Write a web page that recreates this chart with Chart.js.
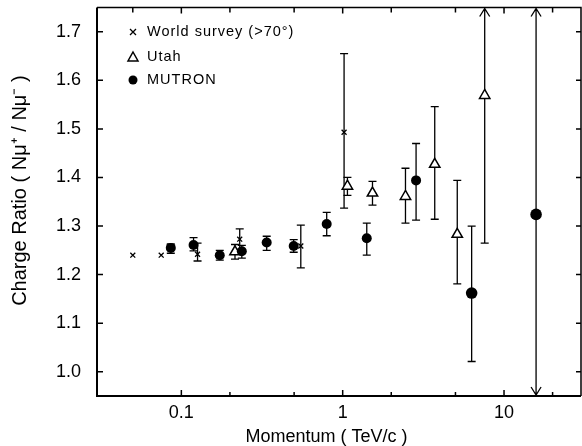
<!DOCTYPE html>
<html>
<head>
<meta charset="utf-8">
<script src="https://cdn.jsdelivr.net/npm/chart.js@4.4.1/dist/chart.umd.min.js"></script>
<style>
  html, body { margin: 0; padding: 0; background: #fff; }
  #wrap { width: 582px; height: 446px; }
</style>
</head>
<body>
<div id="wrap"><canvas id="c" width="582" height="446"></canvas></div>
<script>
// Muon charge ratio N(mu+)/N(mu-) versus momentum (TeV/c)

// World survey (zenith > 70 deg)
const worldP    = [0.05, 0.075, 0.126, 0.23, 0.55, 1.02];
const worldR    = [1.240, 1.240, 1.242, 1.273, 1.259, 1.493];
const worldLow  = [null, null, 1.228, 1.252, 1.214, 1.337];
const worldHigh = [null, null, 1.265, 1.294, 1.302, 1.655];

// Utah
const utahP    = [0.215, 1.07, 1.53, 2.45, 3.72, 5.13, 7.59];
const utahR    = [1.247, 1.382, 1.368, 1.361, 1.427, 1.283, 1.569];
const utahLow  = [1.232, 1.363, 1.343, 1.306, 1.314, 1.181, 1.265];
const utahHigh = [1.262, 1.400, 1.392, 1.419, 1.546, 1.394, Infinity];

// MUTRON
const mutronP    = [0.086, 0.119, 0.173, 0.237, 0.338, 0.497, 0.796, 1.41, 2.85, 6.3, 15.8];
const mutronR    = [1.255, 1.261, 1.240, 1.248, 1.266, 1.259, 1.304, 1.275, 1.394, 1.162, 1.324];
const mutronLow  = [1.244, 1.249, 1.230, 1.234, 1.250, 1.246, 1.280, 1.240, 1.312, 1.021, -Infinity];
const mutronHigh = [1.263, 1.276, 1.250, 1.260, 1.279, 1.272, 1.328, 1.306, 1.470, 1.300, Infinity];

// Axis ticks
const xLabelTicks  = [0.1, 1, 10];
const xMinorTicks  = [0.2, 0.5, 2, 5, 20];
const xTopOnly     = [0.05];
const yTicks       = [1.0, 1.1, 1.2, 1.3, 1.4, 1.5, 1.6, 1.7];

const legendItems = ['World survey (>70°)', 'Utah', 'MUTRON'];

const SANS = "'Liberation Sans', Arial, sans-serif";

const toPts = (xs, ys) => xs.map((v, i) => ({ x: v, y: ys[i] }));

function drawMarker(ctx, kind, x, y) {
  ctx.save();
  ctx.strokeStyle = '#000';
  ctx.fillStyle = '#000';
  if (kind === 'cross') {
    const r = 3;
    ctx.lineWidth = 1.3;
    ctx.beginPath();
    ctx.moveTo(x - r, y - r); ctx.lineTo(x + r, y + r);
    ctx.moveTo(x + r, y - r); ctx.lineTo(x - r, y + r);
    ctx.stroke();
  } else if (kind === 'triangle') {
    ctx.lineWidth = 1.5;
    ctx.fillStyle = '#fff';
    ctx.beginPath();
    ctx.moveTo(x, y - 5); ctx.lineTo(x + 5, y + 4); ctx.lineTo(x - 5, y + 4);
    ctx.closePath();
    ctx.fill(); ctx.stroke();
  } else {
    ctx.beginPath();
    ctx.arc(x, y, 4.5, 0, Math.PI * 2);
    ctx.fill();
  }
  ctx.restore();
}

// Vertical error bars with caps; an infinite bound becomes an arrow at the plot edge
function errorBars(chart, xs, lo, hi) {
  const { ctx, chartArea: a, scales: { x, y } } = chart;
  ctx.save();
  ctx.strokeStyle = '#000';
  ctx.lineWidth = 1.3;
  xs.forEach((v, i) => {
    if (lo[i] == null || hi[i] == null) return;
    const px = x.getPixelForValue(v);
    const topOff = hi[i] === Infinity;
    const botOff = lo[i] === -Infinity;
    const pt = topOff ? a.top : y.getPixelForValue(hi[i]);
    const pb = botOff ? a.bottom : y.getPixelForValue(lo[i]);
    ctx.beginPath();
    ctx.moveTo(px, pt); ctx.lineTo(px, pb);
    if (topOff) {
      ctx.moveTo(px - 5, pt + 9); ctx.lineTo(px, pt + 1); ctx.lineTo(px + 5, pt + 9);
    } else {
      ctx.moveTo(px - 4, pt); ctx.lineTo(px + 4, pt);
    }
    if (botOff) {
      ctx.moveTo(px - 5, pb - 9); ctx.lineTo(px, pb - 1); ctx.lineTo(px + 5, pb - 9);
    } else {
      ctx.moveTo(px - 4, pb); ctx.lineTo(px + 4, pb);
    }
    ctx.stroke();
  });
  ctx.restore();
}

const framePlugin = {
  id: 'frameAndBars',
  // stretch the plot area to one pixel short of the right canvas edge
  afterLayout(chart) {
    const a = chart.chartArea;
    const x = chart.scales.x;
    const right = chart.width - 1;
    a.right = right;
    a.width = right - a.left;
    x.right = right;
    x.width = right - x.left;
    x.configure();
  },
  beforeDatasetsDraw(chart) {
    errorBars(chart, worldP, worldLow, worldHigh);
    errorBars(chart, utahP, utahLow, utahHigh);
    errorBars(chart, mutronP, mutronLow, mutronHigh);
  },
  afterDraw(chart) {
    const { ctx, chartArea: a, scales: { x, y } } = chart;
    ctx.save();
    ctx.strokeStyle = '#000';
    // frame
    ctx.lineWidth = 2;
    ctx.beginPath();
    ctx.moveTo(a.left, a.top); ctx.lineTo(a.left, a.bottom); ctx.lineTo(a.right, a.bottom);
    ctx.stroke();
    ctx.lineWidth = 1.5;
    ctx.beginPath();
    ctx.moveTo(a.left, a.top); ctx.lineTo(a.right, a.top); ctx.lineTo(a.right, a.bottom);
    ctx.stroke();
    // inward tick marks on all four sides
    ctx.lineWidth = 1.5;
    ctx.beginPath();
    xLabelTicks.forEach(v => {
      const px = x.getPixelForValue(v);
      ctx.moveTo(px, a.bottom); ctx.lineTo(px, a.bottom - 6);
      ctx.moveTo(px, a.top); ctx.lineTo(px, a.top + 6);
    });
    xMinorTicks.forEach(v => {
      const px = x.getPixelForValue(v);
      ctx.moveTo(px, a.bottom); ctx.lineTo(px, a.bottom - 4);
      ctx.moveTo(px, a.top); ctx.lineTo(px, a.top + 5);
    });
    xTopOnly.forEach(v => {
      const px = x.getPixelForValue(v);
      ctx.moveTo(px, a.top); ctx.lineTo(px, a.top + 5);
    });
    yTicks.forEach(v => {
      const py = y.getPixelForValue(v);
      ctx.moveTo(a.left, py); ctx.lineTo(a.left + 6, py);
      ctx.moveTo(a.right, py); ctx.lineTo(a.right - 5, py);
    });
    ctx.stroke();
    // legend block in the upper left of the plot
    const kinds = ['cross', 'triangle', 'circle'];
    const rowsY = [32, 57, 80];
    ctx.fillStyle = '#000';
    ctx.font = '14.5px ' + SANS;
    ctx.textBaseline = 'middle';
    ctx.textAlign = 'left';
    if ('letterSpacing' in ctx) ctx.letterSpacing = '1px';
    legendItems.forEach((t, i) => {
      drawMarker(ctx, kinds[i], 133, rowsY[i]);
      ctx.fillText(t, 147, rowsY[i]);
    });
    ctx.restore();
  }
};

new Chart(document.getElementById('c'), {
  type: 'scatter',
  data: {
    datasets: [
      {
        label: 'MUTRON',
        data: toPts(mutronP, mutronR),
        pointStyle: 'circle',
        pointRadius: c => (c.raw && c.raw.x > 5 ? 5.8 : 5),
        backgroundColor: '#000',
        borderColor: '#000',
        borderWidth: 0
      },
      {
        label: 'World survey (>70°)',
        data: toPts(worldP, worldR),
        pointStyle: 'crossRot',
        pointRadius: 3.5,
        borderColor: '#000',
        borderWidth: 1.3
      },
      {
        label: 'Utah',
        data: toPts(utahP, utahR),
        pointStyle: 'triangle',
        pointRadius: 6,
        backgroundColor: '#fff',
        borderColor: '#000',
        borderWidth: 1.5
      }
    ]
  },
  options: {
    responsive: false,
    animation: false,
    devicePixelRatio: 1,
    layout: { padding: { top: 4, right: 1, left: 0, bottom: 0 } },
    plugins: { legend: { display: false }, tooltip: { enabled: false } },
    scales: {
      x: {
        type: 'logarithmic',
        min: 0.03,
        max: 30,
        afterBuildTicks: s => { s.ticks = xLabelTicks.map(v => ({ value: v })); },
        afterFit: s => { s.height = 50; s.paddingLeft = 0; s.paddingRight = 0; },
        grid: { display: false, drawTicks: false },
        border: { display: false },
        ticks: {
          color: '#000',
          padding: 6,
          autoSkip: false,
          maxRotation: 0,
          font: { family: SANS, size: 18 },
          callback: v => String(v)
        },
        title: {
          display: true,
          text: 'Momentum ( TeV/c )     ',
          color: '#000',
          font: { family: SANS, size: 18, lineHeight: 1 },
          padding: { top: 0, bottom: 0 }
        }
      },
      y: {
        min: 0.95,
        max: 1.75,
        afterBuildTicks: s => { s.ticks = yTicks.map(v => ({ value: v })); },
        afterFit: s => { s.width = 97; s.paddingTop = 0; s.paddingBottom = 0; },
        grid: { display: false, drawTicks: false },
        border: { display: false },
        ticks: {
          color: '#000',
          padding: 16,
          font: { family: SANS, size: 18 },
          callback: v => Number(v).toFixed(1)
        },
        title: {
          display: true,
          text: '    Charge Ratio ( Nμ⁺ / Nμ⁻ )',
          color: '#000',
          font: { family: SANS, size: 20, lineHeight: 1 },
          padding: { top: 10, bottom: 0 }
        }
      }
    }
  },
  plugins: [framePlugin]
});
</script>
</body>
</html>
